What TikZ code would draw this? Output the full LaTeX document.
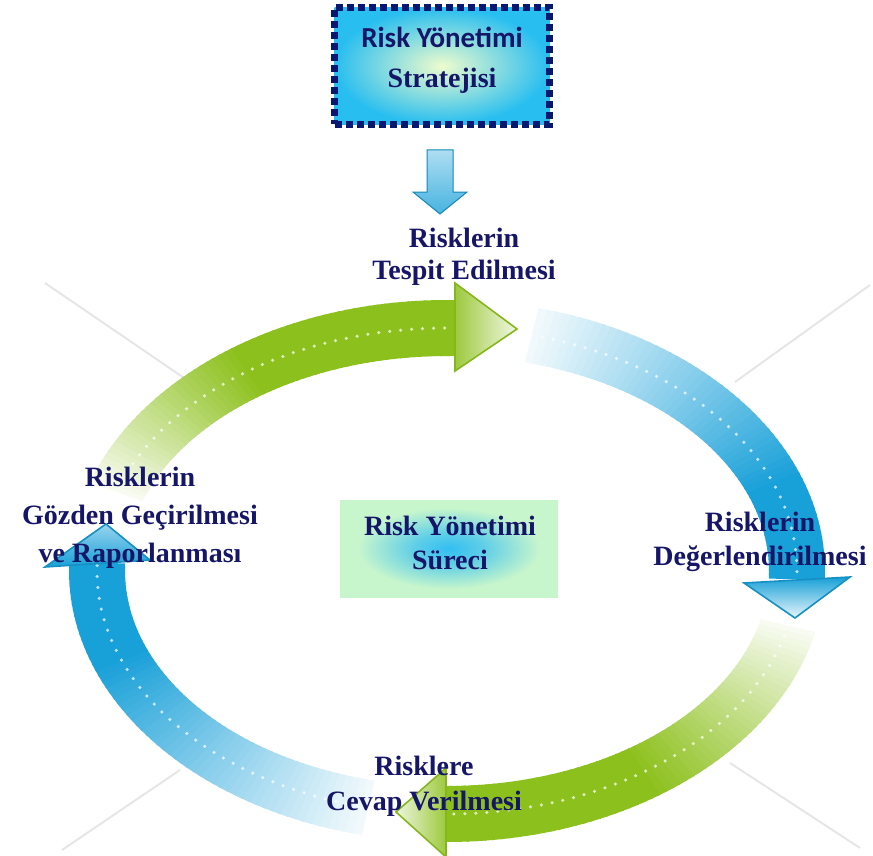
\documentclass[tikz,border=0pt]{standalone}
\usepackage{fontspec}
\setmainfont{Liberation Serif}
\newfontfamily\calfont{Carlito}

\definecolor{ringgreen}{RGB}{140,192,28}
\definecolor{ringblue}{RGB}{24,160,216}
\definecolor{navytext}{RGB}{22,22,104}
\definecolor{navyborder}{RGB}{8,24,112}
\definecolor{boxcyan}{RGB}{40,190,240}
\definecolor{boxpale}{RGB}{238,252,205}
\definecolor{mint}{RGB}{200,246,204}
\definecolor{glow}{RGB}{50,190,242}
\definecolor{faintline}{RGB}{230,230,230}

\pgfdeclareradialshading{glowshade}{\pgfpoint{0bp}{0bp}}{%
  color(0bp)=(glow); color(8bp)=(glow!70!mint); color(21bp)=(mint); color(50bp)=(mint)}

% ring geometry (y axis points down)
\def\cx{447}\def\cy{571}\def\ra{350}\def\rb{243}\def\hw{28}

% one band of the cycle, fading in from white along its length
% #1 colour, #2 start angle, #3 end angle, #4 fraction of length used to fade in
\newcommand{\ringband}[4]{%
  \foreach \i in {0,...,59}{%
    \pgfmathsetmacro{\ta}{#2+(#3-#2)*\i/60}%
    \pgfmathsetmacro{\tb}{#2+(#3-#2)*min(\i+1.3,60)/60}%
    \pgfmathsetmacro{\pc}{min(100,6+94*\i/(60*#4))}%
    \fill[#1!\pc!white]
      ({\cx+(\ra+\hw)*cos(\ta)},{\cy-(\rb+\hw)*sin(\ta)}) --
      ({\cx+(\ra+\hw)*cos(\tb)},{\cy-(\rb+\hw)*sin(\tb)}) --
      ({\cx+(\ra-\hw)*cos(\tb)},{\cy-(\rb-\hw)*sin(\tb)}) --
      ({\cx+(\ra-\hw)*cos(\ta)},{\cy-(\rb-\hw)*sin(\ta)}) -- cycle;
  }%
  \draw[white, opacity=.7, line width=3.5pt, line cap=round, dash pattern=on 0pt off 11pt]
    plot[domain=#2:#3, samples=60] ({\cx+\ra*cos(\x)},{\cy-\rb*sin(\x)});
}

\tikzset{
  label/.style={font=\bfseries\fontsize{28}{34}\selectfont, text=navytext, align=center, inner sep=0pt},
  headgreen/.style={draw=ringgreen!95!black, line width=1.6pt, line join=miter},
  headblue/.style={draw=ringblue!90!black, line width=1.6pt, line join=miter},
}

\begin{document}
\begin{tikzpicture}[x=1pt, y=-1pt]
\useasboundingbox (0,0) rectangle (873,856);

% faint background rays
\draw[faintline, line width=2pt]
  (45,283) -- (190,382)  (870,285) -- (735,382)
  (62,850) -- (180,770) (860,848) -- (730,763);

% the four bands of the cycle
\ringband{ringgreen}{161}{88.8}{0.5}
\ringband{ringblue}{76}{-2}{0.7}
\ringband{ringgreen}{-13}{-90.5}{0.55}
\ringband{ringblue}{-103}{-182}{0.7}

% arrow heads
\shade[headgreen, left color=ringgreen!85!white, right color=ringgreen!12!white]
  (455,283) -- (517,329) -- (455,371) -- cycle;
\shade[headblue, top color=ringblue, bottom color=ringblue!10!white]
  (744,583) -- (850,577) -- (795,618) -- cycle;
\shade[headgreen, right color=ringgreen!85!white, left color=ringgreen!15!white]
  (446,768) -- (446,857) -- (396,812) -- cycle;
\shade[headblue, bottom color=ringblue, top color=ringblue!45!white]
  (45,567) -- (150,560) -- (106,524) -- cycle;

% strategy box and its arrow into the cycle
\node (stratbox) [draw=navyborder, line width=7pt, dash pattern=on 7pt off 4pt,
  minimum width=215pt, minimum height=117pt, inner color=boxpale, outer color=boxcyan]
  at (442,66) {};
\node (stratA) [text=navytext, anchor=base, inner sep=0pt,
  font=\calfont\bfseries\fontsize{29}{35}\selectfont] at (442,48) {Risk Yönetimi};
\node (stratB) [text=navytext, anchor=base, inner sep=0pt,
  font=\bfseries\fontsize{28}{34}\selectfont] at (442,88) {Stratejisi};
\shade[top color=ringblue!35!white, bottom color=ringblue!80!white, draw=ringblue!85!black, line width=1pt]
  (427,150) -- (453,150) -- (453,192) -- (467,192) -- (440,214) -- (413,192) -- (427,192) -- cycle;

% process box in the middle
\node (surecbox) [shading=glowshade, minimum width=218pt, minimum height=97pt, inner sep=0pt]
  at (449,548.5) {};
\node (surectext) [label] at (450,543) {Risk Yönetimi\\Süreci};

% stage labels
\node (tespit) [label, font=\bfseries\fontsize{28}{32}\selectfont] at (464,257) {Risklerin\\Tespit Edilmesi};
\node (deger) [label] at (760,542) {Risklerin\\Değerlendirilmesi};
\node (cevap) [label, font=\bfseries\fontsize{28}{35}\selectfont] at (424,786) {Risklere\\Cevap Verilmesi};
\node (gozden) [label, font=\bfseries\fontsize{28}{38}\selectfont] at (140,518) {Risklerin\\Gözden Geçirilmesi\\ve Raporlanması};
\end{tikzpicture}
\end{document}
